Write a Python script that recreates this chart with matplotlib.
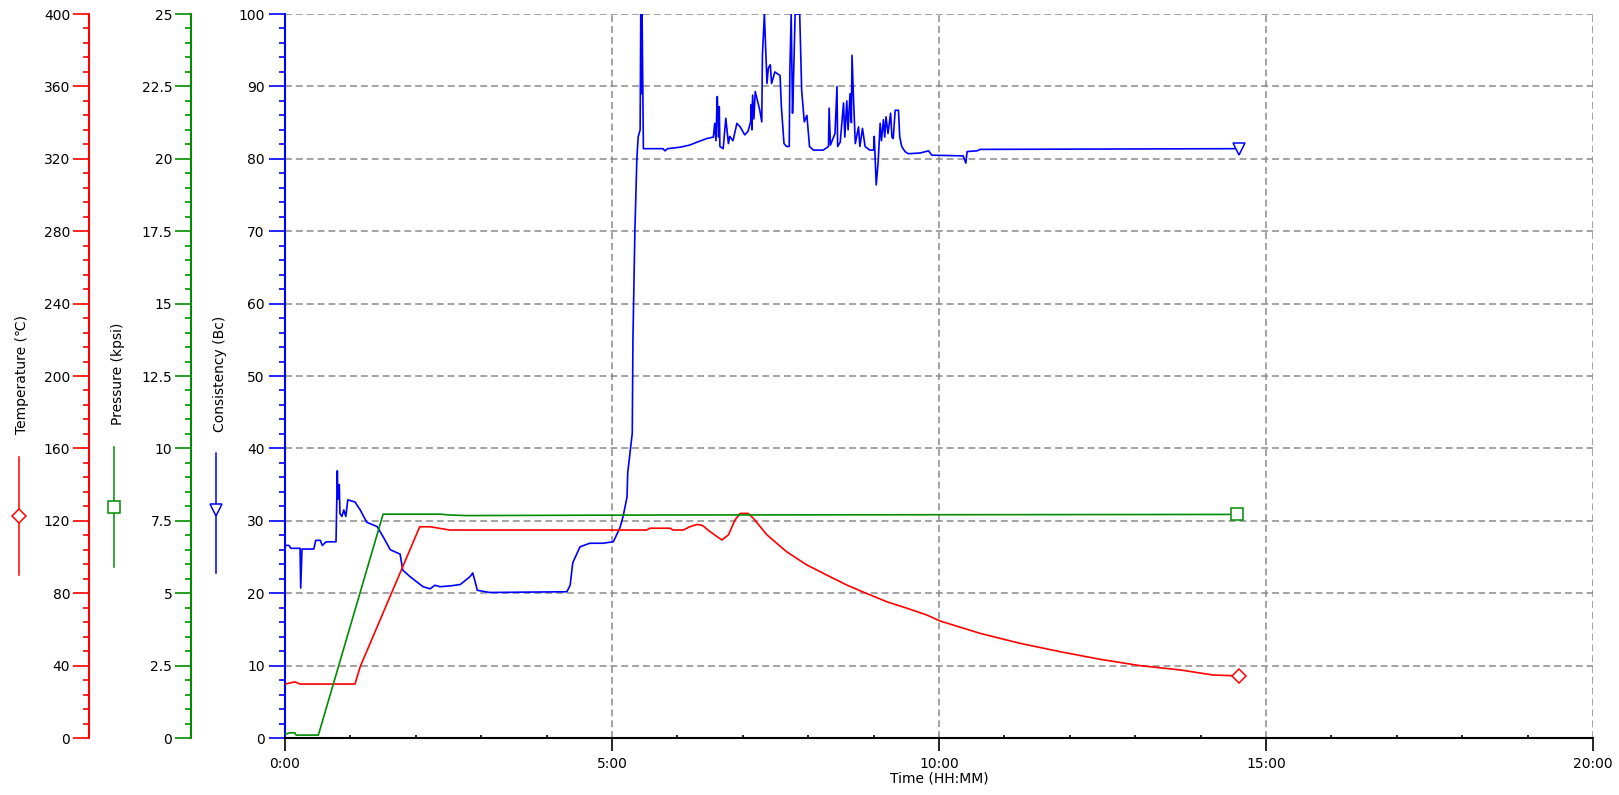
import matplotlib
matplotlib.use("Agg")
import matplotlib.pyplot as plt
from matplotlib.lines import Line2D
from matplotlib.ticker import MultipleLocator, FixedLocator, FuncFormatter

plt.rcParams['font.family'] = ['DejaVu Sans', 'Noto Sans CJK SC']
plt.rcParams['font.size'] = 10

# ---------------- data (time in hours) ----------------
cons_time = [0.00, 0.06, 0.09, 0.23, 0.24, 0.26, 0.44, 0.47, 0.54, 0.57, 0.63, 0.78, 0.80, 0.81,
             0.83, 0.84, 0.87, 0.90, 0.93, 0.96, 1.07, 1.15, 1.25, 1.41, 1.50, 1.61, 1.76, 1.80,
             1.91, 2.11, 2.22, 2.29, 2.37, 2.52, 2.68, 2.83, 2.87, 2.91, 2.94, 3.13, 4.31, 4.36,
             4.40, 4.51, 4.66, 4.86, 5.02, 5.12, 5.17, 5.23, 5.24, 5.31, 5.32, 5.35, 5.38, 5.40,
             5.43, 5.44, 5.45, 5.46, 5.48, 5.78, 5.81, 5.85, 6.04, 6.19, 6.30, 6.45, 6.55, 6.57,
             6.59, 6.60, 6.61, 6.63, 6.64, 6.65, 6.70, 6.74, 6.78, 6.80, 6.85, 6.91, 6.96, 7.03,
             7.08, 7.12, 7.13, 7.14, 7.15, 7.17, 7.19, 7.26, 7.29, 7.30, 7.33, 7.35, 7.37, 7.39,
             7.42, 7.44, 7.49, 7.57, 7.59, 7.63, 7.67, 7.71, 7.72, 7.74, 7.76, 7.77, 7.80, 7.87,
             7.90, 7.94, 7.98, 8.02, 8.08, 8.23, 8.31, 8.32, 8.34, 8.41, 8.44, 8.45, 8.49, 8.54,
             8.56, 8.59, 8.61, 8.64, 8.66, 8.67, 8.69, 8.72, 8.77, 8.79, 8.83, 8.87, 8.94, 9.00,
             9.01, 9.04, 9.07, 9.10, 9.12, 9.15, 9.17, 9.19, 9.22, 9.26, 9.28, 9.30, 9.33, 9.38,
             9.40, 9.43, 9.48, 9.53, 9.71, 9.84, 9.89, 10.37, 10.41, 10.43, 10.58, 10.63, 14.58]
cons_val = [26.6, 26.6, 26.2, 26.2, 20.7, 26.1, 26.1, 27.3, 27.3, 26.6, 27.1, 27.1, 36.9, 33.0,
            35.0, 31.0, 30.6, 31.5, 30.6, 32.9, 32.6, 31.5, 29.8, 29.2, 27.8, 26.0, 25.4, 23.2,
            22.3, 20.9, 20.6, 21.1, 20.9, 21.0, 21.2, 22.3, 22.8, 21.5, 20.4, 20.1, 20.2, 21.1,
            24.2, 26.4, 26.9, 26.9, 27.1, 29.0, 30.6, 33.3, 36.6, 42.1, 55.0, 70.0, 80.0, 83.0,
            84.0, 100.0, 89.0, 100.0, 81.4, 81.4, 81.1, 81.4, 81.6, 81.9, 82.3, 82.8, 83.0, 84.9,
            82.5, 86.0, 88.6, 83.0, 87.2, 81.7, 81.4, 85.6, 82.1, 83.1, 82.5, 84.9, 84.4, 83.3,
            83.8, 85.1, 87.5, 84.0, 88.8, 85.5, 89.3, 86.7, 85.1, 94.3, 100.0, 95.3, 90.4, 92.5,
            93.0, 90.4, 92.0, 91.5, 87.2, 82.1, 81.7, 81.7, 92.3, 100.0, 86.3, 89.0, 100.0, 100.0,
            89.5, 85.1, 86.0, 81.7, 81.2, 81.2, 81.7, 87.0, 81.9, 83.5, 90.0, 81.7, 82.3, 87.7,
            83.0, 88.0, 84.0, 89.0, 85.0, 94.3, 89.0, 82.1, 84.4, 81.7, 84.2, 81.7, 81.2, 81.2,
            83.1, 76.4, 79.6, 84.9, 82.5, 85.4, 83.0, 85.8, 83.5, 86.3, 83.0, 82.8, 86.7, 86.7,
            83.0, 81.7, 81.0, 80.7, 80.8, 81.1, 80.5, 80.4, 79.4, 81.0, 81.1, 81.3, 81.4]

temp_time = [0.00, 0.15, 0.23, 1.07, 1.15, 2.06, 2.22, 2.52, 5.53, 5.58, 5.89, 5.93, 6.09, 6.19,
             6.30, 6.38, 6.50, 6.68, 6.78, 6.88, 6.96, 7.08, 7.16, 7.37, 7.67, 7.98, 8.28, 8.59,
             8.89, 9.20, 9.51, 9.81, 10.02, 10.63, 11.24, 11.85, 12.46, 13.07, 13.69, 14.19, 14.58]
temp_val = [29.8, 31.0, 29.8, 29.8, 39.4, 116.7, 116.7, 114.9, 114.9, 115.9, 115.9, 114.9, 114.9,
            116.7, 118.0, 117.5, 114.0, 109.4, 112.2, 120.4, 124.1, 124.1, 121.4, 112.2, 102.9,
            95.6, 90.1, 84.5, 79.9, 75.3, 71.7, 68.0, 64.6, 57.8, 52.3, 47.7, 43.5, 40.0, 37.6,
            34.8, 34.3]

pres_time = [0.00, 0.08, 0.15, 0.17, 0.51, 1.50, 2.37, 2.52, 2.78, 5.73, 14.56]
pres_val = [0.13, 0.18, 0.18, 0.10, 0.10, 7.73, 7.73, 7.70, 7.68, 7.70, 7.72]

x_tick_vals = [0, 5, 10, 15, 20]
x_tick_labels = ["0:00", "5:00", "10:00", "15:00", "20:00"]

RED = '#ff0000'
GREEN = '#008c00'
BLUE = '#0000ff'
GRID = '#8a8a8a'

W, H = 1619, 795
fig = plt.figure(figsize=(W / 100, H / 100), dpi=100)
x0, x1, ytop, ybot = 285, 1593, 14, 738
ax = fig.add_axes([x0 / W, 1 - ybot / H, (x1 - x0) / W, (ybot - ytop) / H])
ax.set_xlim(0, 20)
ax.set_ylim(0, 100)

# main axis styling
for s in ('top', 'right'):
    ax.spines[s].set_visible(False)
ax.spines['left'].set_color(BLUE)
ax.spines['left'].set_linewidth(1.5)
ax.spines['bottom'].set_color('black')
ax.spines['bottom'].set_linewidth(1.5)
ax.yaxis.set_major_locator(MultipleLocator(10))
ax.yaxis.set_minor_locator(MultipleLocator(2))
ax.tick_params(axis='y', which='major', direction='out', length=11.5, width=1.2, color=BLUE, pad=3)
ax.tick_params(axis='y', which='minor', direction='out', length=4.3, width=1.2, color=BLUE)
ax.xaxis.set_major_locator(FixedLocator(x_tick_vals))
ax.set_xticklabels(x_tick_labels)
ax.xaxis.set_minor_locator(MultipleLocator(1))
ax.tick_params(axis='x', which='major', direction='out', length=9, width=1.2, color='black', pad=5)
ax.tick_params(axis='x', which='minor', direction='in', length=2.5, width=1.2, color='black')
ax.set_xlabel('Time (HH:MM)', labelpad=0)
ax.grid(True, which='major', color=GRID, linestyle=(0, (4.5, 2.6)), linewidth=1.1)
ax.set_axisbelow(True)

fmt = FuncFormatter(lambda v, p: f"{v:g}")

def side_axis(color, frac, ymax, major, minor):
    a = ax.twinx()
    for s in ('top', 'right', 'bottom'):
        a.spines[s].set_visible(False)
    a.spines['left'].set_visible(True)
    a.spines['left'].set_position(('axes', frac))
    a.spines['left'].set_color(color)
    a.spines['left'].set_linewidth(1.5)
    a.yaxis.set_ticks_position('left')
    a.set_ylim(0, ymax)
    a.yaxis.set_major_locator(MultipleLocator(major))
    a.yaxis.set_minor_locator(MultipleLocator(minor))
    a.yaxis.set_major_formatter(fmt)
    a.tick_params(axis='y', which='major', direction='out', length=11.5, width=1.2, color=color, pad=2)
    a.tick_params(axis='y', which='minor', direction='out', length=4.3, width=1.2, color=color)
    return a

ax_t = side_axis(RED, (89 - x0) / (x1 - x0), 400, 40, 8)
ax_p = side_axis(GREEN, (191 - x0) / (x1 - x0), 25, 2.5, 0.5)

# series
ax.plot(cons_time, cons_val, color=BLUE, lw=1.2, zorder=3)
ax.plot(cons_time[-1:], cons_val[-1:], marker='v', ms=9, mfc='white', mec=BLUE, mew=1.1,
        ls='none', zorder=4, clip_on=False)
ax_p.plot(pres_time, pres_val, color=GREEN, lw=1.2)
ax_p.plot(pres_time[-1:], pres_val[-1:], marker='s', ms=8, mfc='white', mec=GREEN, mew=1.1,
          ls='none', clip_on=False)
ax_t.plot(temp_time, temp_val, color=RED, lw=1.2)
ax_t.plot(temp_time[-1:], temp_val[-1:], marker='D', ms=7, mfc='white', mec=RED, mew=1.1,
          ls='none', clip_on=False)

# axis titles with legend-style symbols
def px(x, y):
    return x / W, 1 - y / H

labels = [
    ("Temperature (\u2103)", 22, 374, 19, 457, 575, 516, 'D', 7, RED),
    ("Pressure (kpsi)", 118, 374, 114, 447, 567, 507, 's', 8, GREEN),
    ("Consistency (Bc)", 220, 374, 216, 453, 573, 510, 'v', 9, BLUE),
]
for text, tx, ty, lx, ly1, ly2, my, mk, ms, col in labels:
    fx, fy = px(tx, ty)
    fig.text(fx, fy, text, rotation=90, ha='center', va='center', fontsize=10)
    a1, b1 = px(lx, ly1)
    a2, b2 = px(lx, ly2)
    fig.add_artist(Line2D([a1, a2], [b1, b2], transform=fig.transFigure, color=col, lw=1.1))
    m1, m2 = px(lx, my)
    fig.add_artist(Line2D([m1], [m2], transform=fig.transFigure, marker=mk, ms=ms,
                          mfc='white', mec=col, mew=1.1, ls='none'))

fig.savefig('out.png', dpi=100)
